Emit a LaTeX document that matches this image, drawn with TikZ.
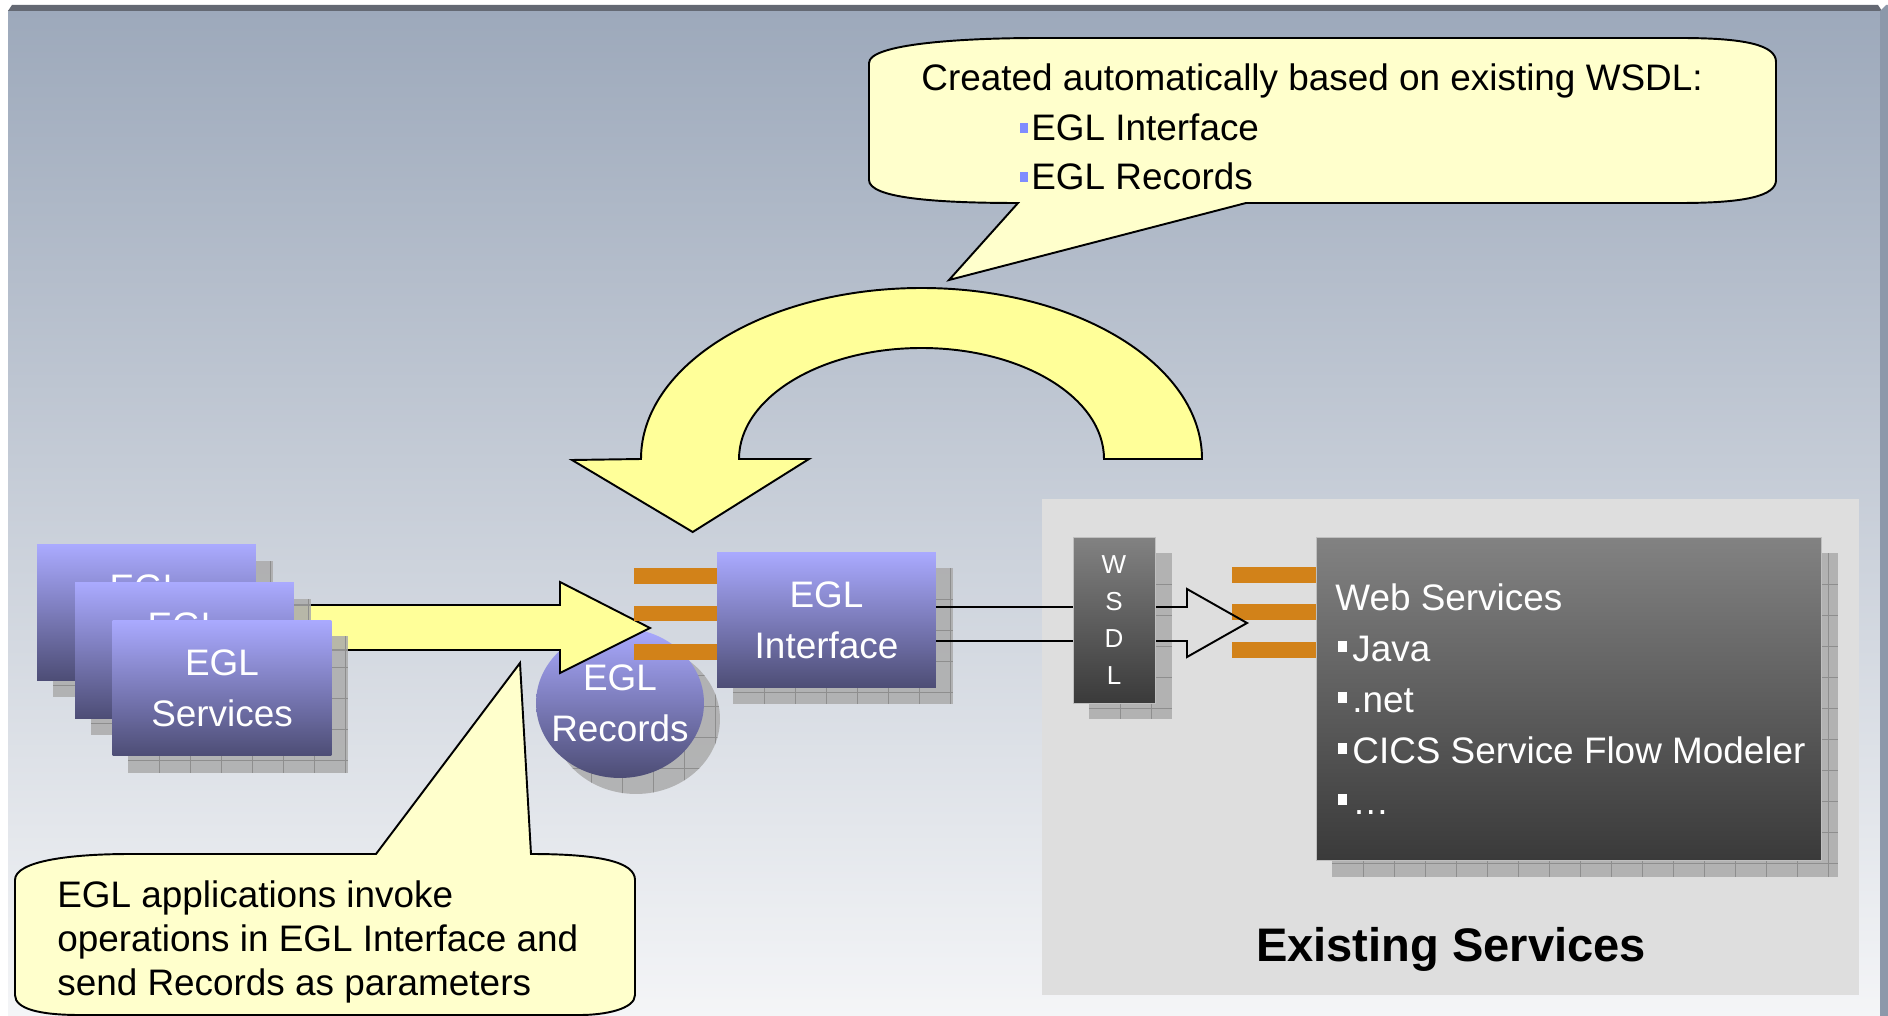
\documentclass[tikz,border=0pt]{standalone}
\usepackage{fontspec}
\setmainfont{Liberation Sans}
\usetikzlibrary{shapes.geometric}

\definecolor{bgtop}{HTML}{9DA9BB}
\definecolor{bgbot}{HTML}{F4F5F7}
\definecolor{frameband}{HTML}{646973}
\definecolor{framestrip}{HTML}{8C98AA}
\definecolor{calloutfill}{HTML}{FFFFCC}
\definecolor{arrowfill}{HTML}{FFFF99}
\definecolor{egltop}{HTML}{AAAAFF}
\definecolor{eglbot}{HTML}{4D4D75}
\definecolor{darktop}{HTML}{828282}
\definecolor{darkbot}{HTML}{3A3A3A}
\definecolor{plug}{HTML}{D28219}
\definecolor{panel}{HTML}{DEDEDE}
\definecolor{shadowgray}{HTML}{ABABAB}
\definecolor{shadowline}{HTML}{8E8E8E}
\definecolor{bulletblue}{HTML}{7F8CFF}

\tikzset{
  outline/.style={draw=black, line width=1.1pt, line join=miter},
  callout/.style={outline, fill=calloutfill},
  blockarrow/.style={outline, fill=arrowfill},
  eglbox/.style={rectangle, inner sep=0pt, top color=egltop, bottom color=eglbot,
    text=white, align=center, font=\fontsize{21}{29}\selectfont},
  egllabel/.style={inner sep=0pt, text=white, align=center, font=\fontsize{21}{29}\selectfont},
  darkbox/.style={rectangle, inner sep=0pt, top color=darktop, bottom color=darkbot,
    draw=black!25, line width=0.4pt, text=white, align=center},
  plugbar/.style={fill=plug},
  shadowfill/.style={fill=shadowgray, fill opacity=0.85},
  shadowgrid/.style={draw=shadowline, line width=0.5pt},
  bodytext/.style={font=\fontsize{21}{29}\selectfont, inner sep=0pt, anchor=base west},
  notetext/.style={font=\fontsize{21}{25}\selectfont, inner sep=0pt, anchor=base west},
}

% drop shadow with a fine grid, given by its two corners
\newcommand\gridshadow[4]{%
  \begin{scope}
    \clip (#1,#2) rectangle (#3,#4);
    \fill[shadowfill] (#1,#2) rectangle (#3,#4);
    \foreach \k in {1,...,17}{
      \draw[shadowgrid] ({#1+\k*31},#2) -- ({#1+\k*31},#4);
      \draw[shadowgrid] (#1,{#2+\k*31}) -- (#3,{#2+\k*31});
    }
  \end{scope}}

\begin{document}
\begin{tikzpicture}[x=0.02cm, y=-0.02cm]
\useasboundingbox (0,0) rectangle (1888,1016);
\clip (0,0) rectangle (1888,1016);

% slide background and frame
\fill[white] (0,0) rectangle (1888,1016);
\shade[top color=bgtop, bottom color=bgbot] (8,11) rectangle (1880,1016);
\fill[frameband] (12,5) -- (1878,5) -- (1882,11) -- (8,11) -- cycle;
\fill[framestrip] (1880,11) -- (1886,5) -- (1888,5) -- (1888,1016) -- (1880,1016) -- cycle;

% callout: generated artefacts
\path[callout] (869,63) .. controls (869,44) and (960,38) .. (1040,38) -- (1680,38)
  .. controls (1745,38) and (1776,45) .. (1776,62) -- (1776,180)
  .. controls (1776,196) and (1745,203) .. (1680,203) -- (1246,203) -- (949,280) -- (1018,203)
  .. controls (935,203) and (869,198) .. (869,180) -- cycle;
\node[bodytext] (cap1) at (921,91) {Created automatically based on existing WSDL:};
\fill[bulletblue] (1020,123) rectangle (1028,133);
\node[bodytext] (cap2) at (1031,141) {EGL Interface};
\fill[bulletblue] (1020,172) rectangle (1028,182);
\node[bodytext] (cap3) at (1031,190) {EGL Records};

% curved generation arrow
\path[blockarrow] (1202,459) .. controls (1202,364.6) and (1076.4,288) .. (921.5,288)
  .. controls (766.6,288) and (641,364.6) .. (641,459) -- (572,460) -- (692.7,532) -- (809,459)
  -- (739,459) .. controls (739,397.7) and (820.7,348) .. (921.5,348)
  .. controls (1022.3,348) and (1104,397.7) .. (1104,459) -- cycle;

% existing services area
\fill[panel] (1042,499) rectangle (1859,995);
\node[font=\bfseries\fontsize{26.8}{32}\selectfont, anchor=base, inner sep=0pt] (existing) at (1451,961) {Existing Services};

% stack of EGL services (the back two only show the top of their first line)
\gridshadow{53}{561}{273}{697}
\node[eglbox, minimum width=4.38cm, minimum height=2.72cm] (svc1) at (146.5,612.5) {};
\node[egllabel, anchor=base] (svc1t) at (146.5,600.2) {EGL};

% EGL records
\begin{scope}
  \clip (636,719) ellipse [x radius=1.68cm, y radius=1.5cm];
  \fill[shadowfill] (540,630) rectangle (730,800);
  \foreach \k in {0,...,6}{
    \draw[shadowgrid] ({560+\k*31},630) -- ({560+\k*31},800);
    \draw[shadowgrid] (540,{644+\k*31}) -- (730,{644+\k*31});
  }
\end{scope}
\shade[top color=egltop, bottom color=eglbot] (620,703) ellipse [x radius=1.68cm, y radius=1.5cm];
\node[egllabel] (rec) at (620,703) {EGL\\Records};

% invocation arrow
\path[blockarrow] (280,605) -- (560,605) -- (560,582) -- (650,628) -- (560,673) -- (560,650) -- (280,650) -- cycle;

\gridshadow{91}{599}{311}{735}
\node[eglbox, minimum width=4.38cm, minimum height=2.72cm] (svc2) at (184.5,650.5) {};
\node[egllabel, anchor=base] (svc2t) at (184.5,638.2) {EGL};
\gridshadow{128}{636}{348}{773}
\node[eglbox, minimum width=4.38cm, minimum height=2.72cm] (svc3) at (222,688) {EGL\\Services};

% interface plugs
\fill[plugbar] (634,568) rectangle (717,584);
\fill[plugbar] (634,606) rectangle (717,621);
\fill[plugbar] (634,644) rectangle (717,660);

% EGL interface
\gridshadow{733}{568}{953}{704}
\node[eglbox, minimum width=4.38cm, minimum height=2.72cm] (iface) at (826.5,620) {EGL\\Interface};

% WSDL and service plugs
\gridshadow{1089}{553}{1172}{719}
\fill[plugbar] (1232,567) rectangle (1316,583);
\fill[plugbar] (1232,604) rectangle (1316,620);
\fill[plugbar] (1232,642) rectangle (1316,658);
\draw[outline] (936,607) -- (1187,607) -- (1187,589) -- (1247,623) -- (1187,657) -- (1187,641) -- (936,641);
\node[darkbox, minimum width=1.64cm, minimum height=3.32cm, font=\fontsize{14.8}{21}\selectfont] (wsdl) at (1114,620) {W\\S\\D\\L};

% web services
\gridshadow{1332}{553}{1838}{877}
\node[darkbox, minimum width=10.1cm, minimum height=6.46cm] (ws) at (1568.5,698.5) {};
\node[bodytext, text=white] (ws0) at (1335,610) {Web Services};
\fill[white] (1338,641) rectangle (1347,652);
\node[bodytext, text=white] (ws1) at (1352,661) {Java};
\fill[white] (1338,692) rectangle (1347,703);
\node[bodytext, text=white] (ws2) at (1352,712) {.net};
\fill[white] (1338,743) rectangle (1347,754);
\node[bodytext, text=white] (ws3) at (1352,763) {CICS Service Flow Modeler};
\fill[white] (1338,794) rectangle (1347,805);
\node[bodytext, text=white] (ws4) at (1352,814) {…};

% callout: how applications use it
\path[callout] (15,880) .. controls (15,861) and (70,854) .. (130,854) -- (376,854) -- (520,663) -- (531,854)
  .. controls (600,854) and (635,862) .. (635,880) -- (635,995)
  .. controls (635,1009) and (605,1015) .. (580,1015) -- (80,1015)
  .. controls (40,1015) and (15,1009) .. (15,995) -- cycle;
\node[notetext] (note1) at (57,907) {EGL applications invoke};
\node[notetext] (note2) at (57,951) {operations in EGL Interface and};
\node[notetext] (note3) at (57,995) {send Records as parameters};
\end{tikzpicture}
\end{document}
